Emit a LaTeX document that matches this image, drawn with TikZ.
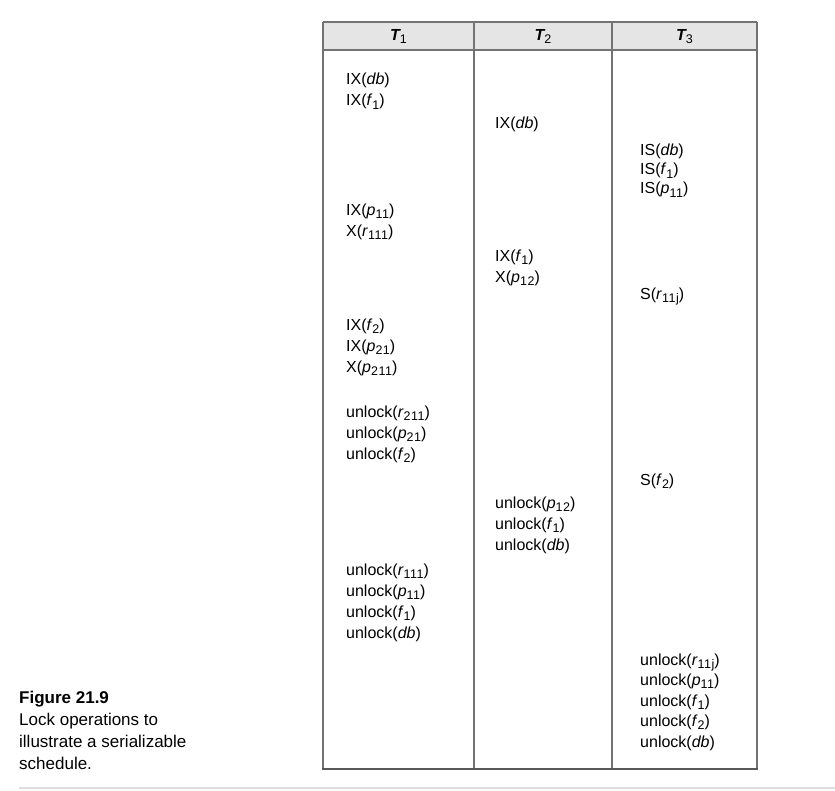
\documentclass[tikz,border=0pt]{standalone}
\usepackage{fontspec}
\setmainfont{Liberation Sans}
\newcommand{\sbs}[1]{\raisebox{-3.2pt}{\normalfont\fontsize{12.5}{13}\selectfont\addfontfeatures{LetterSpace=4}#1}}
\newcommand{\iv}[1]{\textit{#1}}
\begin{document}
\begin{tikzpicture}[x=1pt,y=-1pt,
  op/.style={anchor=base west,inner sep=0pt,font=\fontsize{16}{18}\selectfont},
  hd/.style={anchor=center,inner sep=0pt,font=\fontsize{16}{18}\selectfont\bfseries\itshape},
  captxt/.style={anchor=base west,inner sep=0pt,font=\fontsize{17}{22}\selectfont},
  tabrule/.style={draw=black!55,line width=1.3pt},
  botrule/.style={draw=black!65,line width=2pt},
  sepline/.style={draw=black!13,line width=1.5pt}]
\useasboundingbox (0,0) rectangle (835,791);
% table frame
\coordinate (TL) at (323,22);
\coordinate (TR) at (757,22);
\coordinate (HL) at (323,50);
\coordinate (HR) at (757,50);
\coordinate (BL) at (323,769);
\coordinate (BR) at (757,769);
\coordinate (D1t) at (474,22);
\coordinate (D1b) at (474,769);
\coordinate (D2t) at (612,22);
\coordinate (D2b) at (612,769);
\fill[black!10] (TL) rectangle (HR);
\draw[tabrule] (TL) -- (TR);
\draw[tabrule] (HL) -- (HR);
\draw[tabrule] (TL) -- (BL);
\draw[tabrule] (TR) -- (BR);
\draw[tabrule] (D1t) -- (D1b);
\draw[tabrule] (D2t) -- (D2b);
\draw[botrule] ([xshift=-0.65pt]BL) -- ([xshift=0.65pt]BR);
% headers
\node[hd] (h1) at (398.5,36.5) {T\sbs{1}};
\node[hd] (h2) at (543,36.5) {T\sbs{2}};
\node[hd] (h3) at (684.5,36.5) {T\sbs{3}};
% T1 column
\node[op] (a1) at (346,85) {IX(\iv{db})};
\node[op] (a2) at (346,106) {IX(\iv{f}\sbs{1})};
\node[op] (a3) at (346,215.5) {IX(\iv{p}\sbs{11})};
\node[op] (a4) at (346,236.5) {X(\iv{r}\sbs{111})};
\node[op] (a5) at (346,330.5) {IX(\iv{f}\sbs{2})};
\node[op] (a6) at (346,351.5) {IX(\iv{p}\sbs{21})};
\node[op] (a7) at (346,372.5) {X(\iv{p}\sbs{211})};
\node[op] (a8) at (346,417.5) {unlock(\iv{r}\sbs{211})};
\node[op] (a9) at (346,438.5) {unlock(\iv{p}\sbs{21})};
\node[op] (a10) at (346,459.5) {unlock(\iv{f}\sbs{2})};
\node[op] (a11) at (346,575.5) {unlock(\iv{r}\sbs{111})};
\node[op] (a12) at (346,596.5) {unlock(\iv{p}\sbs{11})};
\node[op] (a13) at (346,617.5) {unlock(\iv{f}\sbs{1})};
\node[op] (a14) at (346,638.5) {unlock(\iv{db})};
% T2 column
\node[op] (b1) at (495,129) {IX(\iv{db})};
\node[op] (b2) at (495,261.5) {IX(\iv{f}\sbs{1})};
\node[op] (b3) at (495,282.5) {X(\iv{p}\sbs{12})};
\node[op] (b4) at (495,508.5) {unlock(\iv{p}\sbs{12})};
\node[op] (b5) at (495,529.5) {unlock(\iv{f}\sbs{1})};
\node[op] (b6) at (495,550.5) {unlock(\iv{db})};
% T3 column
\node[op] (c1) at (640,156) {IS(\iv{db})};
\node[op] (c2) at (640,175) {IS(\iv{f}\sbs{1})};
\node[op] (c3) at (640,194) {IS(\iv{p}\sbs{11})};
\node[op] (c4) at (640,299.5) {S(\iv{r}\sbs{11j})};
\node[op] (c5) at (640,485.5) {S(\iv{f}\sbs{2})};
\node[op] (c6) at (640,665) {unlock(\iv{r}\sbs{11j})};
\node[op] (c7) at (640,685.5) {unlock(\iv{p}\sbs{11})};
\node[op] (c8) at (640,706) {unlock(\iv{f}\sbs{1})};
\node[op] (c9) at (640,726.5) {unlock(\iv{f}\sbs{2})};
\node[op] (c10) at (640,747) {unlock(\iv{db})};
% caption
\node[captxt,font=\fontsize{17}{22}\selectfont\bfseries] (f1) at (19,703) {Figure 21.9};
\node[captxt] (f2) at (19,725) {Lock operations to};
\node[captxt] (f3) at (19,747) {illustrate a serializable};
\node[captxt] (f4) at (19,769) {schedule.};
% bottom separator
\coordinate (S1) at (19,788);
\coordinate (S2) at (835,788);
\draw[sepline] (S1) -- (S2);
\end{tikzpicture}
\end{document}
